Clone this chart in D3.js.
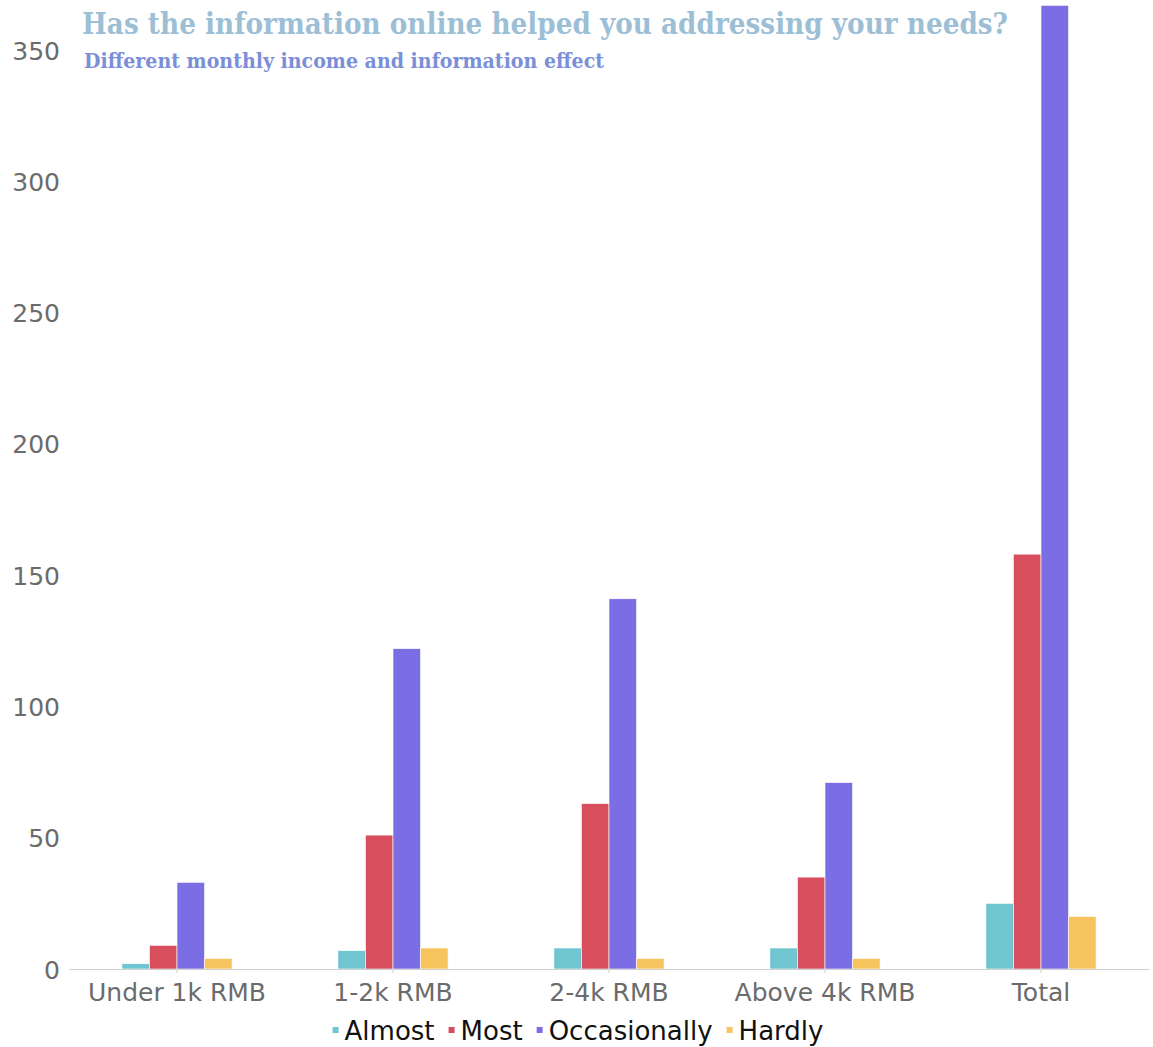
<!DOCTYPE html>
<html>
<head>
<meta charset="utf-8">
<script src="https://cdn.jsdelivr.net/npm/d3@7"></script>
<style>
	body { margin: 0; background: #fff; }
	#graphicContainer { width: 1153px; height: 1047px; }
	.axis text { font-family: "DejaVu Sans", sans-serif; fill: #6b6b6b; }
</style>
</head>
<body>
<div id="graphicContainer"></div>
<script>

var categories = ["Under 1k RMB", "1-2k RMB", "2-4k RMB", "Above 4k RMB", "Total"]
var seriesNames = ["Almost", "Most", "Occasionally", "Hardly"]
var almost = [2, 7, 8, 8, 25]
var most = [9, 51, 63, 35, 158]
var occasionally = [33, 122, 141, 71, 367]
var hardly = [4, 8, 4, 4, 20]
var yTicks = [0, 50, 100, 150, 200, 250, 300, 350]
var colours = ["#6fc5d0", "#d94e5d", "#7b6ee4", "#f7c35e"]

var width = 1153
var height = 1047
var margin = {top: 50, right: 4, bottom: 78, left: 69}

var svg = d3.select("#graphicContainer").append("svg")
	.attr("width", width)
	.attr("height", height)

var data = categories.map(function(c, i) {
	return {cat: c, values: [almost[i], most[i], occasionally[i], hardly[i]]}
})

var x0 = d3.scaleBand()
	.domain(categories)
	.range([margin.left, width - margin.right])
	.paddingInner(0.49)
	.paddingOuter(0.245)

var x1 = d3.scaleBand()
	.domain(seriesNames)
	.range([0, x0.bandwidth()])

var y = d3.scaleLinear()
	.domain([0, 350])
	.range([height - margin.bottom, margin.top])

// y axis, labels only
var yAxis = svg.append("g")
	.attr("class", "axis y")
	.attr("transform", "translate(" + (margin.left - 9) + ",0)")
	.call(d3.axisLeft(y).tickValues(yTicks).tickSize(0).tickPadding(0))

yAxis.select(".domain").remove()
yAxis.selectAll("text").style("font-size", "25px").attr("dy", "0.36em")

// bars
var groups = svg.selectAll(".group")
	.data(data)
	.enter()
	.append("g")
	.attr("class", "group")
	.attr("transform", d => "translate(" + x0(d.cat) + ",0)")

groups.selectAll("rect")
	.data(d => d.values.map((v, i) => ({key: seriesNames[i], value: v, i: i})))
	.enter()
	.append("rect")
	.attr("x", d => x1(d.key))
	.attr("width", x1.bandwidth())
	.attr("y", d => y(d.value))
	.attr("height", d => y(0) - y(d.value))
	.attr("fill", d => colours[d.i])
	.attr("stroke", "#fff")
	.attr("stroke-width", 0.6)

// x axis
var xAxis = svg.append("g")
	.attr("class", "axis x")
	.attr("transform", "translate(0," + y(0) + ")")
	.call(d3.axisBottom(x0).tickSize(4).tickSizeOuter(0).tickPadding(8))

xAxis.select(".domain").attr("stroke", "#d0d0d0").attr("stroke-width", 1.2)
xAxis.selectAll(".tick line").attr("stroke", "#d0d0d0")
xAxis.selectAll("text").style("font-size", "25px").attr("dy", "0.8em")

// title
svg.append("text")
	.attr("x", 82)
	.attr("y", 34)
	.attr("textLength", 926)
	.attr("lengthAdjust", "spacingAndGlyphs")
	.style("font-family", "'DejaVu Serif', serif")
	.style("font-weight", "bold")
	.style("font-size", "29px")
	.style("fill", "#9cbfd6")
	.text("Has the information online helped you addressing your needs?")

svg.append("text")
	.attr("x", 84)
	.attr("y", 68)
	.attr("textLength", 520)
	.attr("lengthAdjust", "spacingAndGlyphs")
	.style("font-family", "'DejaVu Serif', serif")
	.style("font-weight", "bold")
	.style("font-size", "20px")
	.style("fill", "#7b8fd8")
	.text("Different monthly income and information effect")

// legend, laid out from measured label widths and centred
var legend = svg.append("g")
var items = legend.selectAll(".item")
	.data(seriesNames)
	.enter()
	.append("g")
	.attr("class", "item")

items.append("rect")
	.attr("x", 0)
	.attr("y", -4)
	.attr("width", 6)
	.attr("height", 6)
	.attr("fill", (d, i) => colours[i])

items.append("text")
	.attr("x", 12)
	.attr("y", 0)
	.attr("dy", "0.35em")
	.style("font-family", "'DejaVu Sans', sans-serif")
	.style("font-size", "26px")
	.style("fill", "#111")
	.text(d => d)

var gap = 14
var cursor = 0
items.each(function() {
	var w = d3.select(this).select("text").node().getComputedTextLength()
	d3.select(this).attr("transform", "translate(" + cursor + ",0)")
	cursor += 12 + w + gap
})
cursor -= gap
legend.attr("transform", "translate(" + (578 - cursor / 2) + ",1031)")

</script>
</body>
</html>
